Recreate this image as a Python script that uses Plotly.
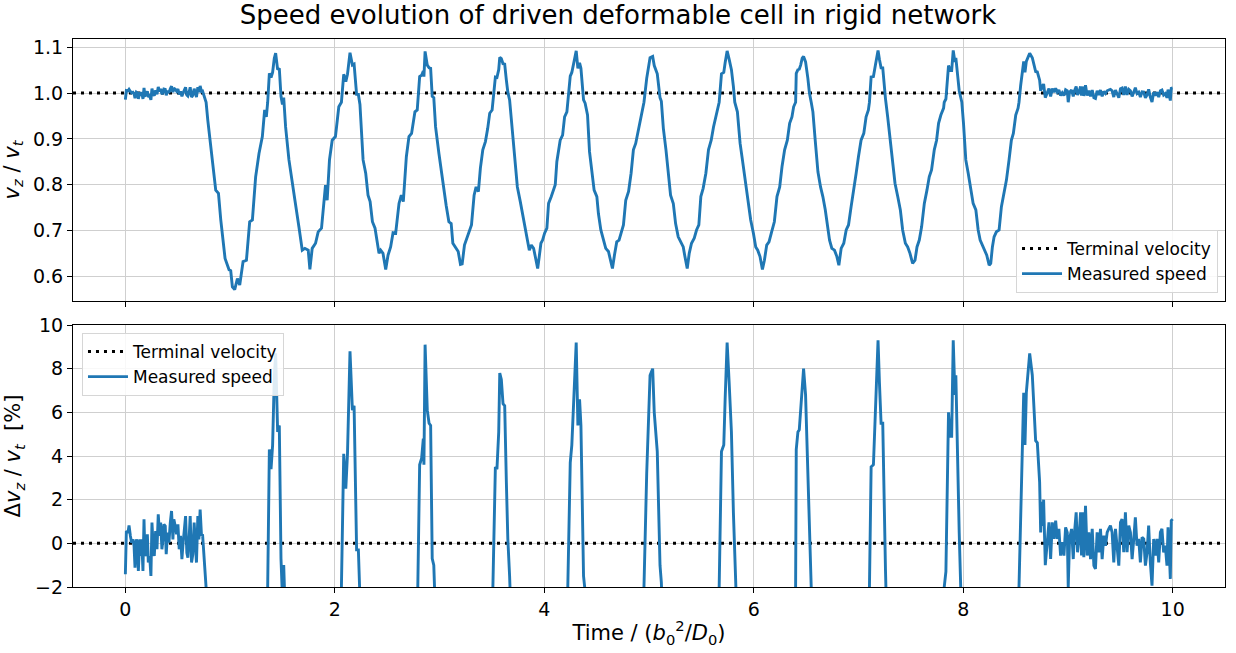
import numpy as np
import plotly.graph_objects as go

# ---------------- data ----------------
terminal_velocity = 1.0

# settling phase before the network (deviation in percent)
t_settle = [0.000, 0.0095, 0.025, 0.035, 0.048, 0.060, 0.073, 0.083, 0.092, 0.105,
            0.114, 0.124, 0.137, 0.146, 0.156, 0.168, 0.178, 0.187, 0.200, 0.210,
            0.219, 0.232, 0.244, 0.254, 0.267, 0.276, 0.289, 0.302, 0.314, 0.327,
            0.337, 0.349, 0.359, 0.368, 0.381, 0.390, 0.403, 0.416, 0.429, 0.441,
            0.454, 0.463, 0.476, 0.489, 0.502, 0.514, 0.527, 0.540, 0.549, 0.562,
            0.575, 0.587, 0.597, 0.610, 0.619, 0.632, 0.644, 0.657, 0.670, 0.679,
            0.692, 0.702, 0.714, 0.727, 0.737, 0.746, 0.759, 0.771]
dv_settle_pct = [-1.42, 0.56, 0.49, 0.82, 0.34, 0.03, 0.18, -0.12, -1.11, 0.18,
                 0.03, -1.27, 0.18, -0.58, 0.18, -1.27, 1.10, -0.58, -0.43, 0.41,
                 -0.88, -0.58, -1.49, 0.95, -0.27, -0.58, 0.56, -0.27, 1.33, 0.34,
                 0.95, -0.27, 0.18, 0.87, 0.79, -0.50, 0.49, 0.03, 0.95, 1.48,
                 0.18, 1.10, 0.79, 0.41, 0.87, -0.27, 0.34, -0.73, -0.12, 0.64,
                 1.25, -0.43, -0.66, 0.34, 1.25, -0.88, -0.50, 0.95, -0.12, -0.88,
                 1.25, 0.18, 1.55, 0.34, 0.41, -0.27, -1.04, -2.03]

# oscillating passage through the network (v_z / v_t)
t_osc = [0.787, 0.816, 0.848, 0.863, 0.889, 0.911, 0.952, 0.990, 1.006, 1.022,
         1.044, 1.070, 1.092, 1.124, 1.156, 1.187, 1.213, 1.244, 1.276, 1.308,
         1.330, 1.346, 1.359, 1.375, 1.391, 1.406, 1.422, 1.435, 1.454, 1.470,
         1.486, 1.500, 1.512, 1.530, 1.562, 1.594, 1.619, 1.657, 1.689, 1.714,
         1.746, 1.762, 1.784, 1.816, 1.841, 1.873, 1.895, 1.911, 1.927, 1.949,
         1.975, 2.006, 2.038, 2.054, 2.063, 2.085, 2.105, 2.121, 2.145, 2.168,
         2.184, 2.208, 2.225, 2.240, 2.255, 2.270, 2.295, 2.317, 2.337, 2.359,
         2.384, 2.406, 2.422, 2.438, 2.460, 2.486, 2.508, 2.533, 2.556, 2.581,
         2.613, 2.635, 2.654, 2.683, 2.708, 2.733, 2.765, 2.787, 2.810, 2.829,
         2.845, 2.851, 2.862, 2.883, 2.900, 2.915, 2.930, 2.945, 2.962, 2.994,
         3.019, 3.041, 3.063, 3.089, 3.111, 3.127, 3.159, 3.178, 3.200, 3.216,
         3.238, 3.263, 3.286, 3.305, 3.330, 3.349, 3.371, 3.390, 3.413, 3.438,
         3.460, 3.479, 3.502, 3.511, 3.533, 3.548, 3.565, 3.575, 3.590, 3.606,
         3.622, 3.638, 3.652, 3.669, 3.698, 3.724, 3.743, 3.771, 3.797, 3.819,
         3.841, 3.857, 3.876, 3.898, 3.914, 3.937, 3.952, 3.968, 3.984, 4.003,
         4.025, 4.041, 4.067, 4.089, 4.105, 4.120, 4.137, 4.152, 4.175, 4.194,
         4.216, 4.225, 4.248, 4.263, 4.286, 4.305, 4.321, 4.337, 4.350, 4.362,
         4.375, 4.390, 4.413, 4.432, 4.454, 4.476, 4.502, 4.517, 4.540, 4.565,
         4.587, 4.613, 4.632, 4.651, 4.670, 4.692, 4.714, 4.740, 4.756, 4.778,
         4.805, 4.829, 4.851, 4.873, 4.900, 4.924, 4.946, 4.952, 4.978, 5.010,
         5.035, 5.050, 5.079, 5.095, 5.105, 5.118, 5.137, 5.162, 5.184, 5.206,
         5.232, 5.254, 5.279, 5.305, 5.327, 5.343, 5.365, 5.384, 5.406, 5.432,
         5.454, 5.476, 5.495, 5.517, 5.543, 5.568, 5.594, 5.616, 5.641, 5.663,
         5.670, 5.692, 5.714, 5.727, 5.746, 5.765, 5.787, 5.806, 5.819, 5.844,
         5.870, 5.892, 5.911, 5.933, 5.949, 5.971, 5.997, 6.019, 6.038, 6.060,
         6.083, 6.102, 6.124, 6.146, 6.171, 6.197, 6.222, 6.248, 6.270, 6.295,
         6.321, 6.343, 6.365, 6.381, 6.400, 6.406, 6.422, 6.435, 6.448, 6.463,
         6.476, 6.495, 6.517, 6.532, 6.549, 6.565, 6.587, 6.613, 6.638, 6.660,
         6.683, 6.702, 6.724, 6.746, 6.771, 6.794, 6.813, 6.835, 6.860, 6.883,
         6.905, 6.930, 6.956, 6.978, 7.000, 7.025, 7.051, 7.073, 7.095, 7.105,
         7.121, 7.143, 7.162, 7.187, 7.200, 7.216, 7.232, 7.245, 7.258, 7.279,
         7.302, 7.327, 7.349, 7.375, 7.400, 7.422, 7.448, 7.470, 7.492, 7.517,
         7.540, 7.559, 7.581, 7.603, 7.629, 7.654, 7.676, 7.698, 7.724, 7.746,
         7.765, 7.787, 7.813, 7.819, 7.835, 7.860, 7.876, 7.890, 7.905, 7.921,
         7.930, 7.962, 7.987, 8.003, 8.025, 8.048, 8.073, 8.095, 8.121, 8.143,
         8.162, 8.190, 8.206, 8.225, 8.248, 8.263, 8.279, 8.295, 8.317, 8.343,
         8.365, 8.390, 8.413, 8.438, 8.460, 8.479, 8.502, 8.524, 8.533, 8.549,
         8.578, 8.590, 8.603, 8.635, 8.660, 8.692, 8.708, 8.730, 8.740, 8.749,
         8.758, 8.768, 8.784]
v_osc = [0.941, 0.883, 0.817, 0.788, 0.781, 0.723, 0.639, 0.614, 0.612, 0.577,
         0.571, 0.595, 0.581, 0.632, 0.635, 0.719, 0.723, 0.817, 0.868, 0.905,
         0.963, 0.948, 0.980, 1.043, 1.034, 1.045, 1.076, 1.087, 1.051, 1.054,
         0.993, 0.975, 0.990, 0.926, 0.854, 0.810, 0.766, 0.708, 0.657, 0.661,
         0.657, 0.615, 0.661, 0.672, 0.697, 0.705, 0.766, 0.799, 0.766, 0.854,
         0.897, 0.905, 0.970, 0.977, 0.980, 1.041, 1.025, 1.041, 1.088, 1.061,
         1.063, 0.997, 0.997, 0.975, 0.905, 0.854, 0.825, 0.777, 0.763, 0.719,
         0.705, 0.672, 0.650, 0.657, 0.650, 0.615, 0.646, 0.664, 0.695, 0.694,
         0.759, 0.777, 0.763, 0.861, 0.905, 0.912, 0.959, 0.963, 1.036, 1.039,
         1.048, 1.036, 1.091, 1.061, 1.055, 1.054, 0.993, 0.990, 0.926, 0.868,
         0.825, 0.788, 0.755, 0.719, 0.715, 0.672, 0.661, 0.654, 0.626, 0.627,
         0.668, 0.683, 0.697, 0.712, 0.777, 0.795, 0.785, 0.836, 0.876, 0.894,
         0.923, 0.956, 0.963, 0.980, 1.035, 1.034, 1.051, 1.078, 1.075, 1.064,
         1.063, 1.028, 1.002, 0.985, 0.912, 0.854, 0.795, 0.763, 0.730, 0.708,
         0.675, 0.657, 0.668, 0.661, 0.643, 0.617, 0.643, 0.672, 0.679, 0.694,
         0.705, 0.759, 0.774, 0.788, 0.800, 0.850, 0.880, 0.897, 0.908, 0.948,
         0.959, 0.980, 1.037, 1.045, 1.069, 1.092, 1.054, 1.066, 1.054, 1.020,
         0.985, 0.978, 0.952, 0.872, 0.825, 0.788, 0.774, 0.737, 0.701, 0.679,
         0.661, 0.654, 0.635, 0.617, 0.646, 0.675, 0.679, 0.701, 0.712, 0.766,
         0.785, 0.825, 0.876, 0.890, 0.923, 0.952, 0.977, 0.980, 1.032, 1.077,
         1.080, 1.060, 1.042, 0.998, 0.990, 0.982, 0.923, 0.876, 0.832, 0.777,
         0.759, 0.715, 0.686, 0.672, 0.664, 0.643, 0.617, 0.650, 0.672, 0.683,
         0.701, 0.712, 0.774, 0.792, 0.825, 0.876, 0.897, 0.926, 0.952, 0.970,
         0.980, 1.042, 1.045, 1.066, 1.092, 1.074, 1.051, 1.014, 0.980, 0.959,
         0.890, 0.854, 0.821, 0.795, 0.755, 0.723, 0.694, 0.664, 0.657, 0.643,
         0.615, 0.635, 0.668, 0.675, 0.697, 0.719, 0.774, 0.795, 0.839, 0.876,
         0.897, 0.934, 0.948, 0.970, 0.980, 1.043, 1.051, 1.052, 1.061, 1.076,
         1.080, 1.068, 1.032, 1.000, 0.980, 0.959, 0.897, 0.828, 0.795, 0.774,
         0.745, 0.715, 0.679, 0.661, 0.657, 0.643, 0.624, 0.661, 0.672, 0.701,
         0.712, 0.752, 0.788, 0.825, 0.861, 0.897, 0.912, 0.948, 0.963, 0.980,
         1.035, 1.036, 1.061, 1.093, 1.074, 1.055, 1.055, 1.012, 0.988, 0.948,
         0.897, 0.846, 0.803, 0.774, 0.745, 0.701, 0.672, 0.664, 0.650, 0.628,
         0.635, 0.664, 0.679, 0.708, 0.759, 0.788, 0.817, 0.832, 0.876, 0.897,
         0.934, 0.952, 0.967, 0.980, 0.987, 1.060, 1.049, 1.049, 1.093, 1.068,
         1.077, 1.005, 0.980, 0.934, 0.854, 0.825, 0.788, 0.759, 0.745, 0.701,
         0.679, 0.664, 0.657, 0.646, 0.624, 0.628, 0.664, 0.686, 0.697, 0.701,
         0.752, 0.781, 0.810, 0.854, 0.897, 0.912, 0.952, 0.967, 0.980, 1.017,
         1.069, 1.045, 1.069, 1.087, 1.077, 1.047, 1.046, 1.028, 1.005, 1.019,
         1.008, 1.020, 0.990]

# relaxation after the network (deviation in percent)
t_relax = [8.819, 8.835, 8.851, 8.867, 8.883, 8.898, 8.914, 8.930, 8.946, 8.962,
           8.978, 8.994, 9.003, 9.016, 9.035, 9.051, 9.063, 9.079, 9.092, 9.105,
           9.121, 9.130, 9.143, 9.152, 9.168, 9.184, 9.200, 9.216, 9.232, 9.248,
           9.263, 9.279, 9.295, 9.311, 9.327, 9.343, 9.359, 9.375, 9.390, 9.406,
           9.422, 9.438, 9.454, 9.470, 9.486, 9.502, 9.517, 9.533, 9.549, 9.565,
           9.581, 9.597, 9.613, 9.629, 9.644, 9.660, 9.676, 9.692, 9.708, 9.724,
           9.740, 9.756, 9.771, 9.787, 9.803, 9.819, 9.835, 9.851, 9.867, 9.883,
           9.898, 9.914, 9.930, 9.946, 9.956, 9.968, 9.978, 9.987, 10.000]
dv_relax_pct = [0.96, -0.72, 0.96, 0.20, 1.04, 0.20, 0.66, -0.56, 0.05, -0.56,
                0.73, 0.50, -2.00, 0.20, 0.66, -0.72, 0.50, 1.42, -0.41, 0.20,
                1.42, -0.56, 1.42, -0.64, 1.72, -0.56, 0.50, -0.72, 0.66, -1.02,
                -1.17, 0.50, -0.41, 0.66, -0.72, 0.35, -0.11, 0.50, 0.66, 0.81,
                0.50, -0.87, 0.66, -0.41, -1.02, 0.96, 1.11, -0.41, 1.42, -0.41,
                0.81, 0.50, -0.72, 0.20, 1.19, -0.11, 0.20, -0.87, 0.27, 0.20,
                -1.02, -0.41, 0.81, -0.87, -1.94, 0.20, -0.56, 0.20, -0.87, 0.50,
                0.66, -0.41, -0.11, -1.02, 0.73, -0.41, -1.63, 1.04, 1.11]

x_ticks = [0, 2, 4, 6, 8, 10]
x_range = [-0.5, 10.5]
top_y_range = [0.546, 1.118]
top_y_ticks = [0.6, 0.7, 0.8, 0.9, 1.0, 1.1]
bot_y_range = [-2, 10]
bot_y_ticks = [-2, 0, 2, 4, 6, 8, 10]

# ---------------- assemble ----------------
assert len(t_settle) == len(dv_settle_pct)
assert len(t_osc) == len(v_osc)
assert len(t_relax) == len(dv_relax_pct)

t = np.concatenate([t_settle, t_osc, t_relax])
v = np.concatenate([terminal_velocity * (1 + np.array(dv_settle_pct) / 100),
                    np.array(v_osc),
                    terminal_velocity * (1 + np.array(dv_relax_pct) / 100)])
dv_pct = (v / terminal_velocity - 1) * 100

BLUE = "#1f77b4"
FONT = "DejaVu Sans"
GRID = "#cfcfcf"
DOT = "3px,5px"
NB = "\u00a0"

fig = go.Figure()
fig.add_trace(go.Scatter(x=x_range, y=[terminal_velocity] * 2, mode="lines",
                         line=dict(color="black", width=3, dash=DOT),
                         name="Terminal velocity", xaxis="x", yaxis="y", legend="legend"))
fig.add_trace(go.Scatter(x=t, y=v, mode="lines", line=dict(color=BLUE, width=2.9),
                         name="Measured speed", xaxis="x", yaxis="y", legend="legend"))
fig.add_trace(go.Scatter(x=x_range, y=[0, 0], mode="lines",
                         line=dict(color="black", width=3, dash=DOT),
                         name="Terminal velocity", xaxis="x2", yaxis="y2", legend="legend2"))
fig.add_trace(go.Scatter(x=t, y=dv_pct, mode="lines", line=dict(color=BLUE, width=2.9),
                         name="Measured speed", xaxis="x2", yaxis="y2", legend="legend2"))

W, H = 1236, 653
ml, mr, mt, mb = 72, 10, 39, 66
ph = H - mt - mb
top_lo = (587 - 301) / ph
bot_hi = (587 - 325) / ph

axis_common = dict(showline=True, linecolor="black", linewidth=1.2, mirror=True,
                   ticks="outside", ticklen=5, tickwidth=1.2, tickcolor="black",
                   showgrid=True, gridcolor=GRID, gridwidth=1, zeroline=False,
                   tickfont=dict(family=FONT, size=19, color="black"))

legend_common = dict(bgcolor="rgba(255,255,255,0.85)", bordercolor="#d6d6d6", borderwidth=1,
                     font=dict(family=FONT, size=17, color="black"),
                     tracegroupgap=0, itemwidth=40)

TITLE_FONT = dict(family=FONT, size=21, color="black")

fig.update_layout(
    width=W, height=H,
    margin=dict(l=ml, r=mr, t=mt, b=mb),
    paper_bgcolor="white", plot_bgcolor="white",
    font=dict(family=FONT, color="black"),
    title=dict(text="Speed evolution of driven deformable cell in rigid network",
               x=0.5, xanchor="center", y=1 - 15 / H, yanchor="middle", yref="container",
               font=dict(family=FONT, size=26, color="black")),
    xaxis=dict(domain=[0, 1], range=x_range, anchor="y", tickvals=x_ticks,
               showticklabels=False, matches="x2", **axis_common),
    yaxis=dict(domain=[top_lo, 1], range=top_y_range, anchor="x", tickvals=top_y_ticks,
               tickformat=".1f",
               title=dict(text="<i>v</i><sub><i>z</i></sub> / <i>v</i><sub><i>t</i></sub>",
                          font=TITLE_FONT, standoff=8),
               **axis_common),
    xaxis2=dict(domain=[0, 1], range=x_range, anchor="y2", tickvals=x_ticks,
                title=dict(text="Time / (<i>b</i><sub>0</sub><sup>2</sup>/<i>D</i><sub>0</sub>)",
                           font=TITLE_FONT, standoff=6),
                **axis_common),
    yaxis2=dict(domain=[0, bot_hi], range=bot_y_range, anchor="x2", tickvals=bot_y_ticks,
                title=dict(text="Δ<i>v</i><sub><i>z</i></sub> / <i>v</i><sub><i>t</i></sub>"
                                + NB + NB + "[%]",
                           font=TITLE_FONT, standoff=8),
                **axis_common),
    legend=dict(x=(1219 - ml) / (W - ml - mr), y=(587 - 293) / ph,
                xanchor="right", yanchor="bottom", **legend_common),
    legend2=dict(x=(81 - ml) / (W - ml - mr), y=(587 - 333) / ph,
                 xanchor="left", yanchor="top", **legend_common),
    showlegend=True,
)

fig.write_html("out.html")
